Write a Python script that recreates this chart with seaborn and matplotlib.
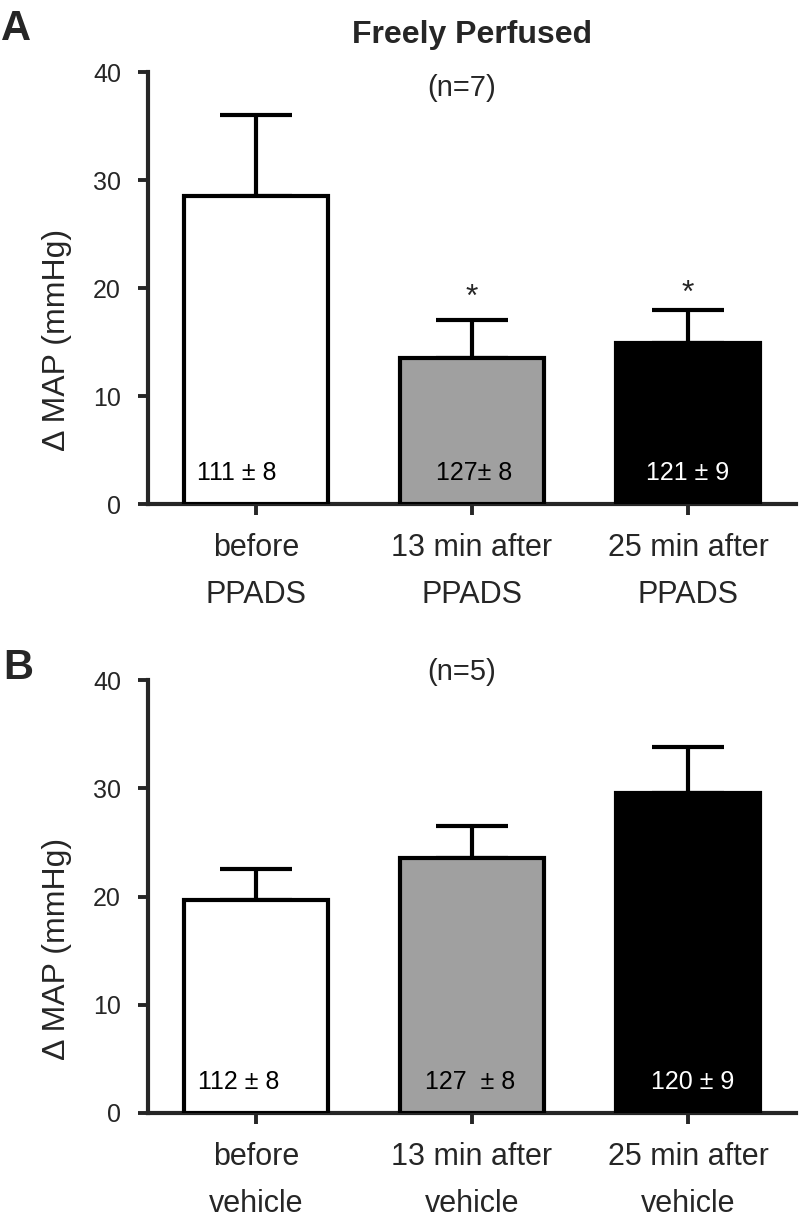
import numpy as np
import pandas as pd
import matplotlib
matplotlib.use('Agg')
import matplotlib.pyplot as plt
import seaborn as sns

# values (mean change in MAP, upper SEM)
conditions = ['before', '13 min after', '25 min after']
ppads_mean = [28.5, 13.5, 14.9]
ppads_sem = [7.5, 3.5, 3.1]
ppads_baseline = ['111 ± 8', '127± 8', '121 ± 9']
ppads_ticks = ['before\nPPADS', '13 min after\nPPADS', '25 min after\nPPADS']
ppads_star_y = [None, 19.1, 19.5]

vehicle_mean = [19.7, 23.6, 29.6]
vehicle_sem = [2.8, 2.9, 4.2]
vehicle_baseline = ['112 ± 8', '127  ± 8', '120 ± 9']
vehicle_ticks = ['before\nvehicle', '13 min after\nvehicle', '25 min after\nvehicle']

bar_colors = ['white', '#a0a0a0', 'black']
text_colors = ['black', 'black', 'white']

sns.set_style('ticks')
plt.rcParams['font.family'] = ['Liberation Sans', 'DejaVu Sans']

fig = plt.figure(figsize=(8, 12.24), dpi=100)
axA = fig.add_axes([0.185, 0.5882, 0.81, 0.3529])
axB = fig.add_axes([0.185, 0.0907, 0.81, 0.3537])


def draw_panel(ax, means, sems, baseline, ticks, n_text, n_y, label_dx, stars=None):
    df = pd.DataFrame({'cond': conditions, 'dmap': means})
    sns.barplot(data=df, x='cond', y='dmap', hue='cond', palette=bar_colors,
                saturation=1, edgecolor='black', linewidth=3, width=0.667,
                errorbar=None, legend=False, ax=ax, zorder=3)
    ax.errorbar(range(len(means)), means, yerr=[[0] * len(sems), sems],
                fmt='none', ecolor='black', elinewidth=3, capsize=26,
                capthick=3, zorder=2)
    for i, lab in enumerate(baseline):
        ax.text(i + label_dx[i], 2.9, lab, ha='center', va='center', fontsize=18,
                color=text_colors[i], zorder=5)
    if stars is not None:
        for i, sy in enumerate(stars):
            if sy is not None:
                ax.text(i, sy, '*', ha='center', va='center', fontsize=23)
    ax.text(0.95, n_y, n_text, ha='center', va='center', fontsize=21)
    ax.set_xlim(-0.5, 2.5)
    ax.set_ylim(0, 40)
    ax.set_yticks([0, 10, 20, 30, 40])
    ax.set_xticks(range(3))
    ax.set_xticklabels(ticks, fontsize=22, linespacing=1.75)
    ax.tick_params(axis='y', labelsize=18, length=7.5, width=2.8, pad=12)
    ax.tick_params(axis='x', length=8, width=2.8, pad=13)
    ax.set_xlabel('')
    ax.set_ylabel('Δ MAP (mmHg)', fontsize=23)
    ax.yaxis.set_label_coords(-0.117, 0.38)
    sns.despine(ax=ax)
    for s in ['left', 'bottom']:
        ax.spines[s].set_linewidth(3)
    ax.spines['left'].set_zorder(6)


draw_panel(axA, ppads_mean, ppads_sem, ppads_baseline, ppads_ticks, '(n=7)', 38.5,
           [-0.09, 0.01, 0.0], ppads_star_y)
draw_panel(axB, vehicle_mean, vehicle_sem, vehicle_baseline, vehicle_ticks, '(n=5)', 40.7,
           [-0.08, -0.01, 0.02])

fig.text(472 / 800, 1 - 43 / 1224, 'Freely Perfused', ha='center', va='baseline',
         fontsize=23, fontweight='bold')
fig.text(1 / 800, 1 - 9 / 1224, 'A', ha='left', va='top', fontsize=30, fontweight='bold')
fig.text(3 / 800, 1 - 648 / 1224, 'B', ha='left', va='top', fontsize=30, fontweight='bold')

fig.savefig('out.png', dpi=100)
